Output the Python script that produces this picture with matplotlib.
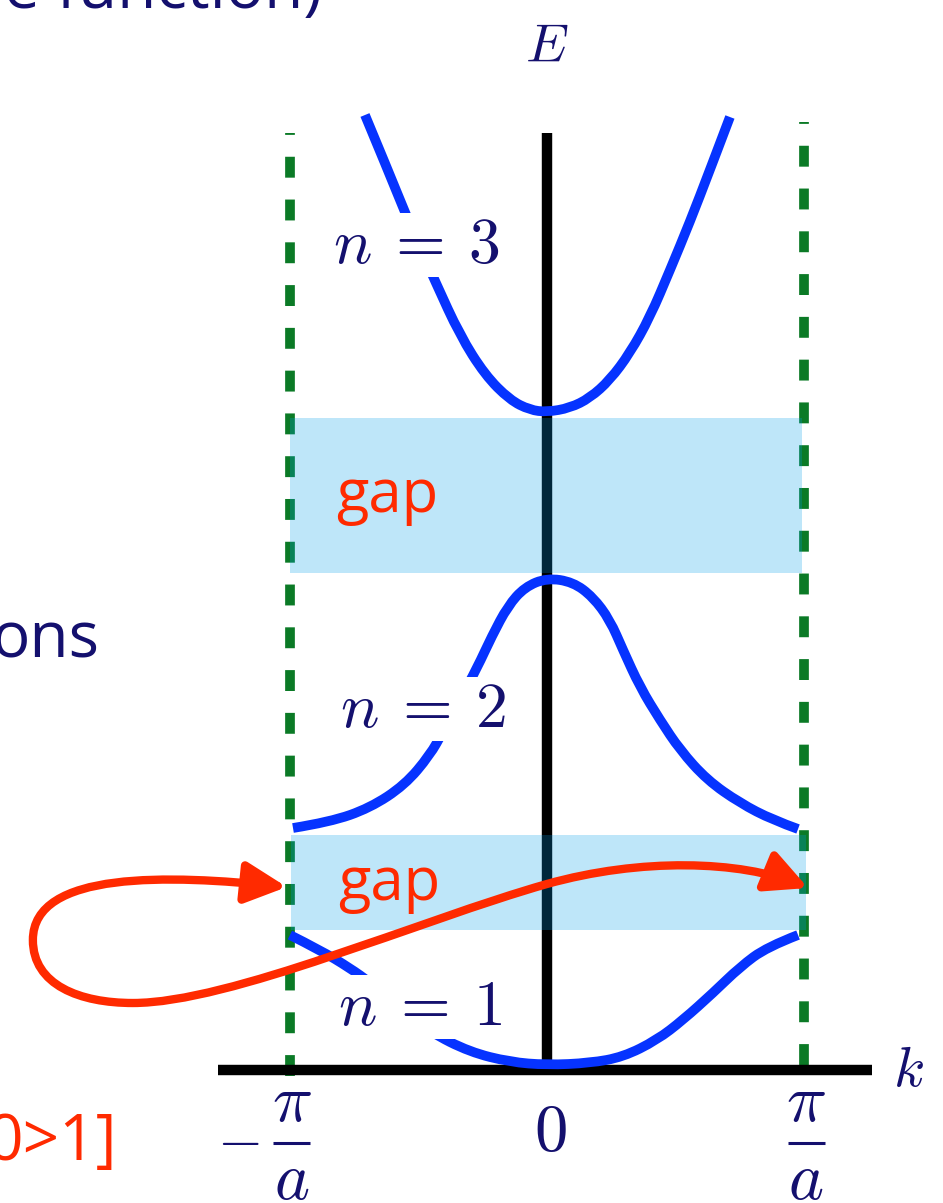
import numpy as np
import matplotlib.pyplot as plt
from matplotlib.patches import Rectangle, FancyArrowPatch, ArrowStyle, PathPatch
from matplotlib.path import Path

plt.rcParams['mathtext.fontset'] = 'cm'

# wave vector k in units of pi/a, energy E in arbitrary units
band1_k = [-1.0, -0.883, -0.767, -0.685, -0.572, -0.455, -0.300, -0.144, 0.0,
           0.167, 0.296, 0.428, 0.529, 0.646, 0.751, 0.856, 0.977]
band1_E = [1.35, 1.20, 1.02, 0.87, 0.62, 0.38, 0.18, 0.08, 0.05,
           0.07, 0.13, 0.30, 0.50, 0.77, 1.03, 1.23, 1.35]

band2_k = [-0.988, -0.844, -0.689, -0.553, -0.455, -0.405, -0.339, -0.272, -0.214, -0.152, -0.086, 0.0,
           0.101, 0.179, 0.245, 0.296, 0.362, 0.440, 0.518, 0.623, 0.751, 0.879, 0.977]
band2_E = [2.42, 2.48, 2.62, 2.85, 3.15, 3.38, 3.70, 4.02, 4.34, 4.64, 4.83, 4.92,
           4.88, 4.73, 4.50, 4.20, 3.83, 3.50, 3.20, 2.90, 2.67, 2.50, 2.41]

band3_k = [-0.708, -0.619, -0.529, -0.432, -0.339, -0.241, -0.144, -0.066, 0.0,
           0.089, 0.167, 0.245, 0.323, 0.401, 0.479, 0.556, 0.634, 0.712]
band3_E = [9.55, 9.00, 8.43, 7.87, 7.35, 6.95, 6.70, 6.60, 6.58,
           6.62, 6.72, 6.90, 7.17, 7.53, 8.00, 8.48, 9.00, 9.53]

band_labels = [r'$n\:=\:1$', r'$n\:=\:2$', r'$n\:=\:3$']

# energy gaps (bottom, top)
gaps = [(1.40, 2.35), (4.97, 6.52)]

tick_k = [-1, 1]

# umklapp arrow from the zone edge at -pi/a round to +pi/a
arrow_pts = [(-1.012, 1.83),
             (-1.467, 1.95), (-2.000, 2.00), (-2.000, 1.30),
             (-2.000, 0.85), (-1.817, 0.67), (-1.611, 0.67),
             (-1.233, 0.67), (-0.494, 1.50), (0.000, 1.86),
             (0.362, 2.12), (0.751, 2.10), (1.016, 1.82)]

NAVY = '#14106e'
BLUE = '#0633ff'
RED = '#ff2a00'
GREEN = '#0b7a26'
GAP_BLUE = (0.0, 0.615, 0.92)


def smooth_curve(ks, Es):
    # quadratic bezier through the midpoints, using the samples as control points
    pts = np.column_stack([ks, Es])
    verts = [pts[0]]
    codes = [Path.MOVETO]
    n = len(pts)
    for i in range(1, n - 1):
        end = (pts[i] + pts[i + 1]) / 2 if i < n - 2 else pts[i + 1]
        verts += [pts[i], end]
        codes += [Path.CURVE3, Path.CURVE3]
    return Path(verts, codes)


fig = plt.figure(figsize=(9.43, 12.03), dpi=100)
ax = fig.add_axes([0, 0, 1, 1])
ax.set_xlim(-2.128, 1.541)
ax.set_ylim(-1.33, 10.70)
ax.axis('off')

# zone boundaries
ax.plot([-1, -1], [-0.06, 9.37], color=GREEN, lw=7, ls=(0, (2.15, 2.25)),
        dash_capstyle='butt', zorder=1)
ax.plot([1, 1], [0.05, 9.48], color=GREEN, lw=7, ls=(0, (2.15, 2.25)),
        dash_capstyle='butt', zorder=1)

# k and E axes
ax.plot([-1.28, 1.265], [0, 0], color='black', lw=7.5, solid_capstyle='butt', zorder=2)
ax.plot([0, 0], [0, 9.37], color='black', lw=7.5, solid_capstyle='butt', zorder=2)

# bands
for bk, bE in [(band1_k, band1_E), (band2_k, band2_E), (band3_k, band3_E)]:
    ax.add_patch(PathPatch(smooth_curve(bk, bE), fill=False, edgecolor=BLUE, lw=7,
                           capstyle='butt', joinstyle='round', zorder=3))

# gaps
for (lo, hi), (k0, k1) in zip(gaps, [(-0.996, 1.008), (-1.0, 0.992)]):
    ax.add_patch(Rectangle((k0, lo), k1 - k0, hi - lo, facecolor=GAP_BLUE,
                           alpha=0.255, edgecolor='none', zorder=4))

codes = [Path.MOVETO] + [Path.CURVE4] * (len(arrow_pts) - 1)
arrow = FancyArrowPatch(path=Path(arrow_pts, codes),
                        arrowstyle=ArrowStyle('<|-|>', head_length=0.4, head_width=0.2),
                        mutation_scale=62, color=RED, lw=6,
                        shrinkA=0, shrinkB=0, zorder=5)
ax.add_patch(arrow)

# gap labels
ax.text(-0.813, 1.70, 'gap', color=RED, fontsize=43, family='Open Sans',
        ha='left', va='baseline', zorder=6)
ax.text(-0.821, 5.58, 'gap', color=RED, fontsize=43, family='Open Sans',
        ha='left', va='baseline', zorder=6)

# band index labels
for lab, (x, y) in zip(band_labels, [(-0.812, 0.45), (-0.804, 3.43), (-0.831, 8.07)]):
    ax.text(x, y, lab, color=NAVY, fontsize=46, ha='left', va='baseline', zorder=6,
            bbox=dict(facecolor='white', edgecolor='none', pad=0.5))

# axis labels
ax.text(0, 10.08, r'$E$', color=NAVY, fontsize=39, ha='center', va='baseline')
ax.text(1.346, -0.16, r'$k$', color=NAVY, fontsize=41, ha='left', va='baseline')

# tick labels: pi over a at the zone edges, 0 at the centre
for kk in tick_k:
    ax.text(kk + 0.008, -0.32, r'$\pi$', color=NAVY, fontsize=48, ha='center', va='center')
    ax.plot([kk - 0.064, kk + 0.08], [-0.73, -0.73], color=NAVY, lw=2.2,
            solid_capstyle='butt')
    ax.text(kk + 0.008, -1.10, r'$a$', color=NAVY, fontsize=48, ha='center', va='center')
ax.text(-1.20, -0.87, r'$-$', color=NAVY, fontsize=42, ha='center', va='baseline')
ax.text(0.012, -0.62, r'$0$', color=NAVY, fontsize=48, ha='center', va='center')

# slide text around the diagram
ax.text(-0.875, 10.62, 'e function)', color=NAVY, fontsize=46, family='Open Sans',
        ha='right', va='baseline')
ax.text(-1.739, 4.12, 'ons', color=NAVY, fontsize=46, family='Open Sans',
        ha='right', va='baseline')
ax.text(-1.673, -0.90, '0>1]', color=RED, fontsize=46, family='Open Sans',
        ha='right', va='baseline')

fig.savefig('out.png', dpi=100)
